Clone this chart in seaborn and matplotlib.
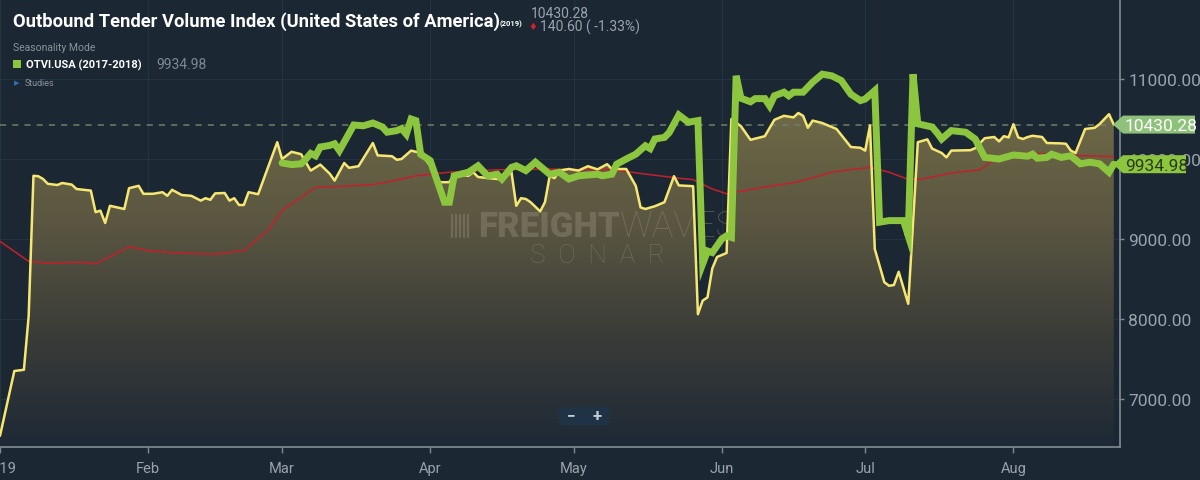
import numpy as np
import pandas as pd
import matplotlib
matplotlib.use("Agg")
import matplotlib.pyplot as plt
from matplotlib.patches import Polygon, FancyBboxPatch
from matplotlib.colors import LinearSegmentedColormap
import seaborn as sns

# values: day offset from 2019-01-01 and index level
otvi_days = [0, 3, 5, 6, 7, 8, 9, 10, 12, 13, 15, 16, 19, 20, 21, 22, 23, 26, 27, 29,
             30, 32, 34, 35, 36, 38, 40, 42, 43, 44, 45, 47, 48, 49, 50, 51, 52, 54, 58, 59,
             61, 63, 65, 67, 69, 70, 72, 73, 75, 78, 79, 82, 83, 84, 86, 88, 90, 92, 94, 95,
             98, 99, 100, 104, 105, 107, 108, 109, 110, 111, 113, 114, 115, 116, 117, 119, 121, 123, 125, 127,
             128, 131, 133, 134, 135, 137, 139, 141, 142, 145, 146, 147, 148, 149, 150, 152, 153, 155, 157, 160,
             162, 164, 166, 167, 168, 169, 170, 172, 175, 178, 180, 181, 182, 183, 185, 186, 187, 188, 190, 192,
             194, 195, 197, 198, 199, 203, 204, 206, 208, 209, 210, 211, 212, 213, 214, 215, 216, 218, 219, 222,
             223, 224, 225, 227, 229, 230, 232, 233]
otvi_vals = [6540, 7350, 7365, 8040, 9790, 9785, 9750, 9690, 9675, 9700, 9680, 9625, 9605, 9335, 9355, 9200, 9415, 9375, 9635, 9665,
             9565, 9565, 9585, 9540, 9615, 9550, 9540, 9480, 9510, 9490, 9570, 9575, 9480, 9510, 9425, 9425, 9585, 9560, 10210, 10000,
             10090, 10060, 9855, 9930, 9815, 9730, 9950, 9890, 9910, 10200, 10045, 10035, 9990, 10000, 10105, 10075, 9915, 9710, 9710, 9810,
             9790, 9835, 9775, 9750, 9750, 9835, 9415, 9510, 9500, 9460, 9345, 9460, 9790, 9760, 9855, 9875, 9855, 9910, 9870, 9935,
             9875, 9875, 9665, 9395, 9375, 9410, 9460, 9785, 9670, 9660, 8060, 8230, 8270, 8630, 8775, 8825, 10500, 10410, 10240, 10285,
             10490, 10540, 10520, 10575, 10540, 10390, 10480, 10450, 10375, 10150, 10140, 10105, 10420, 8875, 8460, 8415, 8425, 8590, 8190, 10210,
             10245, 10130, 10075, 10020, 10105, 10110, 10135, 10260, 10275, 10220, 10285, 10270, 10435, 10270, 10250, 10275, 10290, 10275, 10200, 10195,
             10190, 10105, 10075, 10375, 10390, 10435, 10560, 10430.28]

season_days = [59, 61, 63, 64, 65, 66, 67, 69, 70, 71, 74, 76, 78, 80, 81, 83, 84, 85, 86, 87,
               88, 90, 93, 94, 95, 98, 100, 102, 104, 105, 107, 108, 110, 112, 115, 117, 119, 121, 123, 125,
               126, 128, 129, 131, 133, 135, 136, 137, 139, 140, 142, 144, 146, 147, 148, 149, 151, 152, 153, 154,
               155, 157, 158, 160, 161, 162, 164, 165, 166, 168, 170, 172, 174, 176, 178, 180, 181, 183, 184, 186,
               189, 190, 191, 192, 195, 196, 197, 199, 202, 204, 206, 209, 212, 215, 216, 217, 219, 220, 222, 224,
               226, 228, 230, 232, 233]
season_vals = [9950, 9930, 9940, 10000, 10070, 10040, 10150, 10170, 10190, 10105, 10425, 10415, 10450, 10400, 10335, 10355, 10380, 10310, 10500, 10480,
               10060, 9980, 9460, 9460, 9790, 9835, 9915, 9790, 9810, 9750, 9895, 9915, 9855, 9960, 9810, 9835, 9750, 9790, 9800, 9810,
               9790, 9810, 9935, 10000, 10060, 10165, 10130, 10250, 10270, 10330, 10550, 10460, 10480, 8690, 8850, 8830, 9000, 9040, 9020, 11040,
               10760, 10715, 10755, 10755, 10665, 10790, 10835, 10790, 10835, 10835, 10960, 11060, 11040, 10980, 10810, 10730, 10750, 10855, 9210, 9230,
               9230, 9040, 11060, 10440, 10400, 10330, 10250, 10355, 10335, 10250, 10020, 10000, 10050, 10035, 10060, 10010, 10020, 10060, 10020, 10040,
               9940, 9960, 9940, 9835, 9934.98]

avg_days = [0, 6, 10, 17, 20, 24, 27, 31, 37, 45, 51, 56, 59, 66, 77, 80, 84, 87, 94, 104,
            114, 121, 128, 135, 142, 145, 149, 152, 160, 167, 174, 177, 182, 186, 190, 193, 197, 199, 205, 207,
            213, 220, 227, 233]
avg_vals = [8970, 8720, 8700, 8710, 8690, 8810, 8905, 8855, 8825, 8810, 8855, 9105, 9355, 9645, 9675, 9700, 9750, 9790, 9835, 9865,
            9875, 9867, 9867, 9812, 9760, 9742, 9625, 9565, 9650, 9715, 9835, 9860, 9895, 9835, 9745, 9750, 9800, 9825, 9865, 9955,
            10075, 10060, 10040, 10030]

month_ticks = ["2019-01-01", "2019-02-01", "2019-03-01", "2019-04-01",
               "2019-05-01", "2019-06-01", "2019-07-01", "2019-08-01"]
month_labels = ["2019", "Feb", "Mar", "Apr", "May", "Jun", "Jul", "Aug"]
y_ticks = [7000, 8000, 9000, 10000, 11000]

last_otvi = 10430.28
last_season = 9934.98
change_text = "140.60 ( -1.33%)"

BG = "#1c2734"
GRID = "#253240"
TXT = "#9aa3ad"
YELLOW = "#f6e772"
GREEN = "#8cc63f"
RED = "#c4202b"

start = pd.Timestamp("2019-01-01")
otvi = pd.DataFrame({"date": start + pd.to_timedelta(otvi_days, unit="D"), "value": otvi_vals})
season = pd.DataFrame({"date": start + pd.to_timedelta(season_days, unit="D"), "value": season_vals})
avg = pd.DataFrame({"date": start + pd.to_timedelta(avg_days, unit="D"), "value": avg_vals})

sns.set_theme(style="dark", rc={"axes.facecolor": BG, "figure.facecolor": BG,
                                "savefig.facecolor": BG})
plt.rcParams["font.family"] = ["Roboto", "DejaVu Sans"]

W, H = 1200, 481
fig = plt.figure(figsize=(12, 4.81), dpi=100)
ax = fig.add_axes([0, 33 / H, 1120 / W, 448 / H])

def px(x, y):
    # figure pixel (from top left) -> figure fraction
    return x / W, 1 - y / H

x0 = pd.Timestamp("2019-01-01")
x1 = x0 + pd.Timedelta(days=234.3)
ax.set_xlim(x0, x1)
ax.set_ylim(6400, 12000)

# grid
for t in month_ticks:
    ax.axvline(pd.Timestamp(t), color=GRID, lw=0.8, zorder=0)
for t in y_ticks + [12000]:
    ax.axhline(t, color=GRID, lw=0.8, zorder=0)

# gradient area under the 2019 line
poly = ax.fill_between(otvi["date"], otvi["value"], 6400, color="none", lw=0)
cmap = LinearSegmentedColormap.from_list("area", ["#1e2936", "#3a3c38", "#5a5641", "#6e6946"])
grad = np.linspace(0, 1, 256).reshape(-1, 1)
xl = ax.get_xlim()
img = ax.imshow(grad, cmap=cmap, origin="lower", aspect="auto",
                extent=[xl[0], xl[1], 6400, 10600], zorder=1)
img.set_clip_path(poly.get_paths()[0], transform=ax.transData)
ax.set_xlim(x0, x1)
ax.set_ylim(6400, 12000)

# watermark
wm = "#8f8b78"
ax.text(620 / 1120, 0.493, "FREIGHT", transform=ax.transAxes, ha="right", va="center",
        fontsize=25, fontweight="black", color=wm, alpha=0.45, zorder=2)
ax.text(620 / 1120, 0.493, "WAVES", transform=ax.transAxes, ha="left", va="center",
        fontsize=26, fontweight="light", color=wm, alpha=0.45, zorder=2)
ax.text(598 / 1120, 0.428, "S  O  N  A  R", transform=ax.transAxes, ha="center", va="center",
        fontsize=19, fontweight="light", color=wm, alpha=0.45, zorder=2)
for i in range(5):
    ax.plot([(452 + i * 4) / 1120] * 2, [0.468, 0.518], transform=ax.transAxes,
            color=wm, alpha=0.45, lw=1.6, zorder=2)

ax.axhline(last_otvi, color="#6f7f68", lw=1.1, ls=(0, (4, 4)), zorder=3)

sns.lineplot(data=avg, x="date", y="value", ax=ax, color=RED, lw=1.1, zorder=4)
sns.lineplot(data=otvi, x="date", y="value", ax=ax, color=YELLOW, lw=1.8, zorder=5)
sns.lineplot(data=season, x="date", y="value", ax=ax, color=GREEN, lw=5,
             zorder=6, solid_joinstyle="miter")

# axes styling
ax.set_xlabel("")
ax.set_ylabel("")
ax.set_xticks(pd.to_datetime(month_ticks))
ax.set_xticklabels(month_labels)
ax.yaxis.tick_right()
ax.set_yticks(y_ticks)
ax.set_yticklabels([f"{v:.2f}" for v in y_ticks])
ax.tick_params(axis="x", colors="#7d8893", labelcolor=TXT, labelsize=10.5,
               length=4, width=1, pad=6, bottom=True)
ax.tick_params(axis="y", colors="#7d8893", labelcolor=TXT, labelsize=12.5,
               length=3, width=1, pad=3, right=True, left=False)
for side in ["top", "left"]:
    ax.spines[side].set_visible(False)
for side in ["bottom", "right"]:
    ax.spines[side].set_color("#838c96")
    ax.spines[side].set_linewidth(1.2)
ax.grid(False)

# price tags at the right edge
def tag(value, text, face, tcolor, right_px):
    yy = 160 + (10000 - value) / 12.5
    pts = [px(1113, yy), px(1123, yy - 9), px(right_px, yy - 9),
           px(right_px, yy + 9), px(1123, yy + 9)]
    fig.patches.append(Polygon(pts, closed=True, transform=fig.transFigure,
                               facecolor=face, edgecolor="none", zorder=10))
    fig.text(*px(1125, yy + 1), text, ha="left", va="center", fontsize=12.5,
             color=tcolor, zorder=11)

tag(last_otvi, f"{last_otvi:.2f}", "#8ec27a", "white", 1195)
tag(last_season, f"{last_season:.2f}", GREEN, "#2b3a1d", 1186)

# zoom control
fig.patches.append(FancyBboxPatch(px(559, 426), 50 / W, 18 / H, boxstyle="round,pad=0,rounding_size=0.003",
                                  transform=fig.transFigure, facecolor="#1f3346",
                                  edgecolor="none", zorder=10))
fig.text(*px(571, 416), "\u2212", ha="center", va="center", fontsize=11,
         fontweight="bold", color="#c6ccd2", zorder=11)
fig.text(*px(597, 416), "+", ha="center", va="center", fontsize=12,
         fontweight="bold", color="#c6ccd2", zorder=11)
fig.lines.append(plt.Line2D([585 / W, 585 / W], [1 - 410 / H, 1 - 423 / H],
                            transform=fig.transFigure, color="#3a4c5e", lw=0.8))

# header
title = fig.text(*px(13, 27), "Outbound Tender Volume Index (United States of America)",
                 fontsize=16.5, fontweight="bold", color="white", va="baseline")
fig.canvas.draw()
tw = title.get_window_extent().width
title.set_fontsize(16.5 * 484 / tw)
fig.text(*px(500, 26), "(2019)", fontsize=5.5, fontweight="bold", color="white", va="baseline")
fig.text(*px(531, 18), "10430.28", fontsize=10, color=TXT, va="baseline")
fig.text(*px(533, 27), "\u2666", fontsize=7, color="#d0202a", ha="center", va="center")
fig.text(*px(540, 32), change_text, fontsize=10, color=TXT, va="baseline")
fig.text(*px(13, 48), "Seasonality Mode", fontsize=7.5, color="#8a939c", va="center")
fig.patches.append(plt.Rectangle(px(13, 69), 8 / W, 8 / H, transform=fig.transFigure,
                                 facecolor=GREEN, edgecolor="none"))
fig.text(*px(26, 65), "OTVI.USA (2017-2018)", fontsize=8, fontweight="bold",
         color="white", va="center")
fig.text(*px(156, 65), "9934.98", fontsize=10, color="#7f8891", va="center")
fig.text(*px(14, 84), "\u25b6", fontsize=5, color="#2f6fb5", va="center")
fig.text(*px(25, 84), "Studies", fontsize=6.5, color="#8a939c", va="center")

fig.savefig("out.png", dpi=100, facecolor=BG)
